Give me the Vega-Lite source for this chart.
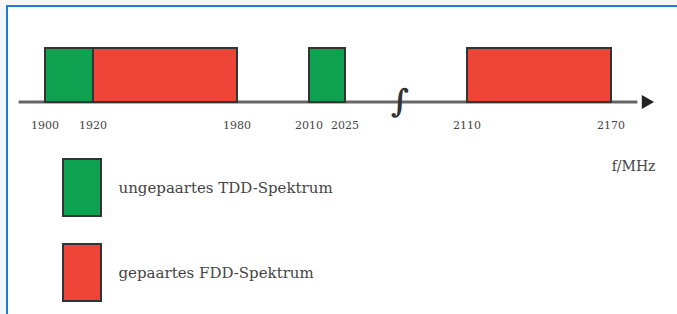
{
  "$schema": "https://vega.github.io/schema/vega-lite/v6.json",
  "width": 677,
  "height": 314,
  "autosize": {"type": "fit", "contains": "padding"},
  "padding": {"left": 7, "top": 6, "right": -3, "bottom": -3},
  "background": "#f4f6fa",
  "config": {
    "view": {"fill": "white", "stroke": "#1a7fd4", "strokeWidth": 2},
    "legend": {
      "orient": "none",
      "legendX": 45.5,
      "legendY": 152,
      "padding": 0,
      "title": null,
      "symbolType": "M-0.667,-1H0.667V1H-0.667Z",
      "symbolSize": 3249,
      "symbolStrokeColor": "#333333",
      "symbolStrokeWidth": 2,
      "symbolOpacity": 1,
      "rowPadding": 20,
      "labelOffset": 7,
      "labelFont": "DejaVu Serif",
      "labelFontSize": 15,
      "labelColor": "#444444",
      "labelLimit": 400
    }
  },
  "datasets": {
    "bands": [
      {"start": 1900, "end": 1920, "type": "ungepaartes TDD-Spektrum"},
      {"start": 1920, "end": 1980, "type": "gepaartes FDD-Spektrum"},
      {"start": 2010, "end": 2025, "type": "ungepaartes TDD-Spektrum"},
      {"start": 2110, "end": 2170, "type": "gepaartes FDD-Spektrum"}
    ],
    "ticks": [
      {"f": 1900}, {"f": 1920}, {"f": 1980}, {"f": 2010}, {"f": 2025}, {"f": 2110}, {"f": 2170}
    ],
    "one": [{}]
  },
  "layer": [
    {
      "data": {"name": "one"},
      "mark": {"type": "rule", "stroke": "#666666", "strokeWidth": 3},
      "encoding": {
        "x": {"datum": 1889, "type": "quantitative", "axis": null,
          "scale": {"domain": [1884.1667, 2047.5, 2082.5, 2197.5], "range": [0, 392, 394, 670], "nice": false, "zero": false}},
        "x2": {"datum": 2181},
        "y": {"datum": 0, "type": "quantitative", "axis": null,
          "scale": {"domain": [0, 1], "range": [96, 42], "nice": false, "zero": false}}
      }
    },
    {
      "data": {"name": "bands"},
      "mark": {"type": "rect", "stroke": "#333333", "strokeWidth": 2},
      "encoding": {
        "x": {"field": "start", "type": "quantitative", "axis": null},
        "x2": {"field": "end"},
        "y": {"datum": 1, "type": "quantitative", "axis": null},
        "y2": {"datum": 0},
        "color": {
          "field": "type", "type": "nominal",
          "sort": ["ungepaartes TDD-Spektrum", "gepaartes FDD-Spektrum"],
          "scale": {"domain": ["ungepaartes TDD-Spektrum", "gepaartes FDD-Spektrum"], "range": ["#0ea14f", "#ef4438"]}
        }
      }
    },
    {
      "data": {"name": "one"},
      "mark": {"type": "point", "shape": "triangle-right", "filled": true, "color": "#222222", "opacity": 1, "size": 200},
      "encoding": {
        "x": {"datum": 2185.4, "type": "quantitative"},
        "y": {"datum": 0, "type": "quantitative"}
      }
    },
    {
      "data": {"name": "one"},
      "mark": {"type": "text", "text": "∫", "font": "DejaVu Serif", "fontSize": 32, "fontWeight": "bold", "color": "#333333", "baseline": "middle", "align": "center"},
      "encoding": {
        "x": {"datum": 2065, "type": "quantitative"},
        "y": {"datum": 0, "type": "quantitative"}
      }
    },
    {
      "data": {"name": "ticks"},
      "mark": {"type": "text", "font": "DejaVu Serif", "fontSize": 11, "color": "#444444", "baseline": "middle", "align": "center"},
      "encoding": {
        "x": {"field": "f", "type": "quantitative"},
        "y": {"datum": -0.4444, "type": "quantitative"},
        "text": {"field": "f", "type": "quantitative", "format": "d"}
      }
    },
    {
      "data": {"name": "one"},
      "mark": {"type": "text", "text": "f/MHz", "font": "DejaVu Serif", "fontSize": 14, "color": "#444444", "baseline": "middle", "align": "center"},
      "encoding": {
        "x": {"datum": 2179.4, "type": "quantitative"},
        "y": {"datum": -1.2037, "type": "quantitative"}
      }
    }
  ]
}
